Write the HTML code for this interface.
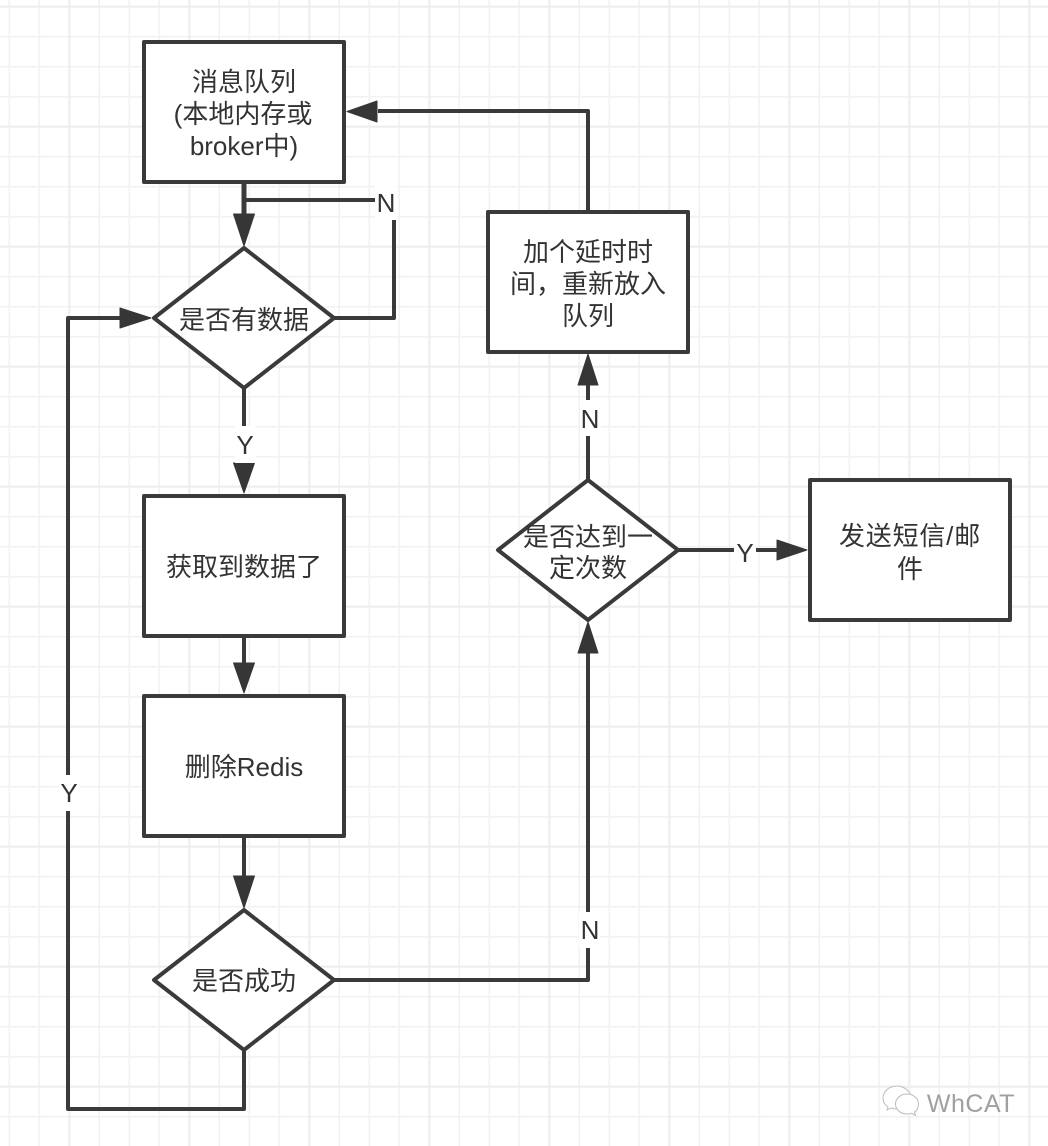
<!DOCTYPE html>
<html><head><meta charset="utf-8"><style>
html,body{margin:0;padding:0;background:#fff}
svg{display:block;filter:blur(.35px)}
text{font-family:"Liberation Sans","Noto Sans CJK SC",sans-serif;font-size:26px;fill:#333;text-anchor:middle}
.s{fill:#fff;stroke:#3a3a3a;stroke-width:4;stroke-linejoin:round}
.l{fill:none;stroke:#3a3a3a;stroke-width:4;stroke-linejoin:round}
.a{fill:#363636;stroke:#363636;stroke-width:1;stroke-linejoin:round}
.m{stroke:#f2f2f2;stroke-width:1.6}
.M{stroke:#eeeeee;stroke-width:2.2}
.w{fill:#fff;stroke:none}
</style></head><body>
<svg width="1048" height="1146" viewBox="0 0 1048 1146" xmlns="http://www.w3.org/2000/svg">
<rect width="1048" height="1146" fill="#fff"/>
<g class="m">
<path d="M9.3 0V1146M39.3 0V1146M99.3 0V1146M129.3 0V1146M159.3 0V1146M219.3 0V1146M249.3 0V1146M279.3 0V1146M339.3 0V1146M369.3 0V1146M399.3 0V1146M459.3 0V1146M489.3 0V1146M519.3 0V1146M579.3 0V1146M609.3 0V1146M639.3 0V1146M699.3 0V1146M729.3 0V1146M759.3 0V1146M819.3 0V1146M849.3 0V1146M879.3 0V1146M939.3 0V1146M969.3 0V1146M999.3 0V1146"/>
<path d="M0 36.7H1048M0 66.7H1048M0 96.7H1048M0 156.7H1048M0 186.7H1048M0 216.7H1048M0 276.7H1048M0 306.7H1048M0 336.7H1048M0 396.7H1048M0 426.7H1048M0 456.7H1048M0 516.7H1048M0 546.7H1048M0 576.7H1048M0 636.7H1048M0 666.7H1048M0 696.7H1048M0 756.7H1048M0 786.7H1048M0 816.7H1048M0 876.7H1048M0 906.7H1048M0 936.7H1048M0 996.7H1048M0 1026.7H1048M0 1056.7H1048M0 1116.7H1048"/>
</g>
<g class="M">
<path d="M69.3 0V1146M189.3 0V1146M309.3 0V1146M429.3 0V1146M549.3 0V1146M669.3 0V1146M789.3 0V1146M909.3 0V1146M1029.3 0V1146"/>
<path d="M0 6.7H1048M0 126.7H1048M0 246.7H1048M0 366.7H1048M0 486.7H1048M0 606.7H1048M0 726.7H1048M0 846.7H1048M0 966.7H1048M0 1086.7H1048"/>
</g>

<!-- connectors -->
<path class="l" d="M244 182V218" style="stroke-width:5"/>
<path class="l" d="M334 318H394V200H244"/>
<path class="l" d="M244 388V465"/>
<path class="l" d="M244 636V665"/>
<path class="l" d="M244 836V878"/>
<path class="l" d="M244 1050V1109H68V318H122"/>
<path class="l" d="M334 980H588V651"/>
<path class="l" d="M588 480V385"/>
<path class="l" d="M678 550H777"/>
<path class="l" d="M588 212V111H378"/>

<!-- arrowheads -->
<polygon class="a" points="233.500,214 254.500,214 244,246"/>
<polygon class="a" points="233.500,463 254.500,463 244,493"/>
<polygon class="a" points="233.500,663 254.500,663 244,693"/>
<polygon class="a" points="233.500,876 254.500,876 244,908"/>
<polygon class="a" points="120,308 120,328 151,318"/>
<polygon class="a" points="578,653 598,653 588,622"/>
<polygon class="a" points="578,385 598,385 588,354"/>
<polygon class="a" points="777,540 777,560 807,550"/>
<polygon class="a" points="377,101 377,122 347,111.500"/>

<!-- shapes -->
<rect class="s" x="144" y="42" width="200" height="140"/>
<polygon class="s" points="244,248 334,318 244,388 154,318"/>
<rect class="s" x="144" y="496" width="200" height="140"/>
<rect class="s" x="144" y="696" width="200" height="140"/>
<polygon class="s" points="244,910 334,980 244,1050 154,980"/>
<rect class="s" x="488" y="212" width="200" height="140"/>
<polygon class="s" points="588,480 678,550 588,620 498,550"/>
<rect class="s" x="810" y="480" width="200" height="140"/>

<!-- label backgrounds -->
<rect class="w" x="375" y="186" width="22" height="34"/>
<rect class="w" x="235" y="426" width="21" height="37"/>
<rect class="w" x="580" y="400" width="21" height="36"/>
<rect class="w" x="734" y="538" width="22" height="26"/>
<rect class="w" x="579" y="912" width="21" height="36"/>
<rect class="w" x="59" y="775" width="21" height="36"/>

<!-- labels -->
<text x="244" y="91">消息队列</text>
<text x="243" y="123">(本地内存或</text>
<text x="244" y="155">broker中)</text>
<text x="244" y="329">是否有数据</text>
<text x="244" y="576">获取到数据了</text>
<text x="244" y="776">删除Redis</text>
<text x="244" y="990">是否成功</text>
<text x="588" y="261">加个延时时</text>
<text x="588" y="293">间，重新放入</text>
<text x="588" y="325">队列</text>
<text x="588" y="546">是否达到一</text>
<text x="588" y="577">定次数</text>
<text x="910" y="545" style="letter-spacing:.8px">发送短信/邮</text>
<text x="910" y="578">件</text>
<text x="386" y="212">N</text>
<text x="245" y="454">Y</text>
<text x="590" y="428">N</text>
<text x="745" y="562">Y</text>
<text x="590" y="939">N</text>
<text x="69" y="802">Y</text>

<!-- watermark -->
<g fill="#fff" stroke="#bdbdbd" stroke-width="1">
<path d="M897 1086c-8 0-14 5.500-14 12 0 4 2 7 5 9l-1 3 4-2c2 .6 4 1 6 1 8 0 14-5.500 14-11s-6-12-14-12z"/>
<path d="M907 1094c-6.500 0-11.500 4.500-11.500 10s5 10 11.500 10c1.500 0 3-.2 4.500-.7l4 2.200-1-3.300c2.500-2 4-4.700 4-8 0-5.500-5-10.200-11.500-10.200z"/>
</g>
<text x="971" y="1112" style="fill:#a0a0a0;font-size:25px;letter-spacing:.5px">WhCAT</text>
</svg>
</body></html>
